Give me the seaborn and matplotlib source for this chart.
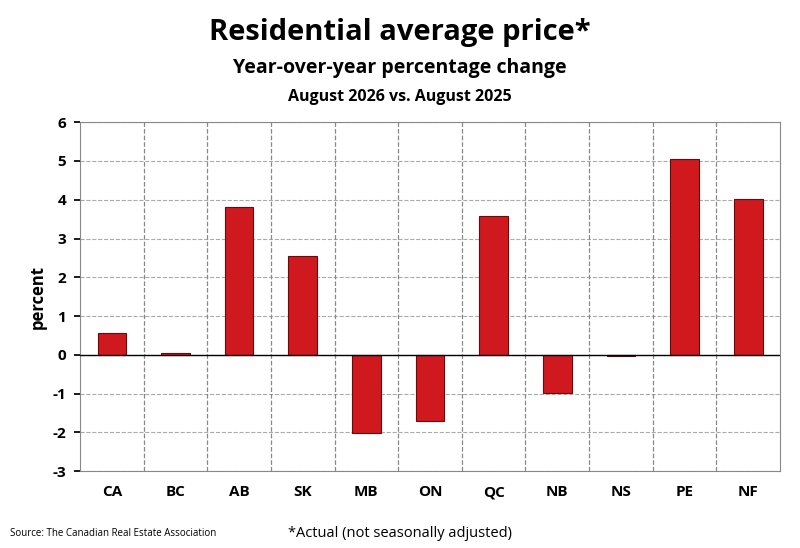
import pandas as pd
import seaborn as sns
import matplotlib.pyplot as plt

provinces = ['CA', 'BC', 'AB', 'SK', 'MB', 'ON', 'QC', 'NB', 'NS', 'PE', 'NF']
changes = [0.57, 0.05, 3.81, 2.55, -2.01, -1.70, 3.58, -0.98, -0.02, 5.05, 4.02]
yticks = list(range(-3, 7))

df = pd.DataFrame({'Province': provinces, 'Change': changes})

sns.set_theme(style="white")
plt.rcParams['font.family'] = ['Open Sans', 'DejaVu Sans']
plt.rcParams['text.color'] = 'black'
plt.rcParams['axes.labelcolor'] = 'black'
plt.rcParams['xtick.color'] = 'black'
plt.rcParams['ytick.color'] = 'black'

fig, ax = plt.subplots(figsize=(8, 5.48), dpi=100)
fig.subplots_adjust(left=0.1, right=0.975, top=0.777, bottom=0.14)

sns.barplot(data=df, x='Province', y='Change', color='#d0191e', saturation=1,
            width=0.45, edgecolor='#6a0a0a', linewidth=0.8, ax=ax, zorder=3)

ax.set_ylim(-3, 6)
ax.set_xlim(-0.5, len(provinces) - 0.5)
ax.set_yticks(yticks)
ax.set_yticklabels([str(t) for t in yticks], fontsize=11, fontweight='bold')
ax.set_xticks(range(len(provinces)))
ax.set_xticklabels(provinces, fontsize=11, fontweight='bold')
ax.tick_params(axis='both', length=4, color='black', direction='out', left=True, bottom=False, pad=6)
ax.set_xlabel('')
ax.set_ylabel('percent', fontsize=12, fontweight='bold')

for y in yticks:
    ax.axhline(y, color='#aaaaaa', linestyle='--', linewidth=0.8, zorder=1)
for i in range(len(provinces) - 1):
    ax.axvline(i + 0.5, color='#888888', linestyle='--', linewidth=0.9, zorder=1)
ax.axhline(0, color='black', linewidth=1.0, zorder=4)

for s in ax.spines.values():
    s.set_color('#888888')
    s.set_linewidth(0.8)

fig.text(0.5, 0.968, 'Residential average price*', ha='center', va='top', fontsize=21, fontweight='bold')
fig.text(0.5, 0.895, 'Year-over-year percentage change', ha='center', va='top', fontsize=14, fontweight='bold')
fig.text(0.5, 0.838, 'August 2026 vs. August 2025', ha='center', va='top', fontsize=11.5, fontweight='bold')
fig.text(0.012, 0.022, 'Source: The Canadian Real Estate Association', fontsize=7)
fig.text(0.5, 0.02, '*Actual (not seasonally adjusted)', ha='center', fontsize=10.5)

plt.savefig('out.png', dpi=100)
